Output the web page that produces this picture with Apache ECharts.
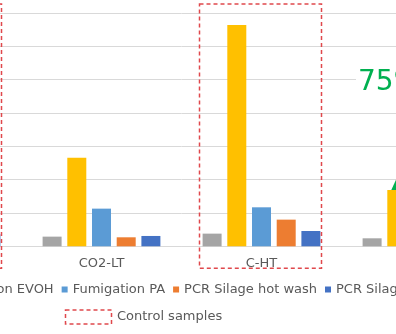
<!DOCTYPE html>
<html>
<head>
<meta charset="utf-8">
<script src="https://cdn.jsdelivr.net/npm/echarts@6/dist/echarts.min.js"></script>
<style>
  html, body { margin: 0; padding: 0; background: #fff; overflow: hidden; }
  body { width: 396px; height: 334px; position: relative; }
  /* the canvas is wider than the window and shifted left */
  #chart { position: absolute; left: -160px; top: 0; width: 700px; height: 334px; }
</style>
</head>
<body>
<div id="chart"></div>
<script>
// Sample groups (control groups are framed with a dashed box)
const categories = ['C-LT', 'CO2-LT', 'C-HT', 'CO2-HT'];
const controlGroups = ['C-LT', 'C-HT'];

// Treatment series, one value per sample group
const seriesNames = ['Untreated', 'Fumigation EVOH', 'Fumigation PA', 'PCR Silage hot wash', 'PCR Silage cold wash'];
const untreated = [0.30, 0.29, 0.38, 0.24];
const fumigationEvoh = [6.2, 2.66, 6.64, 1.69];
const fumigationPa = [1.10, 1.13, 1.17, 0.60];
const pcrHotWash = [0.55, 0.27, 0.80, 0.30];
const pcrColdWash = [0.36, 0.31, 0.46, 0.28];
const seriesColors = ['#A5A5A5', '#FFC000', '#5B9BD5', '#ED7D31', '#4472C4'];

// Reduction callout on the CO2-HT group
const reductionLabel = '75%';
const reductionGroup = 'CO2-HT';

const FONT = '"DejaVu Sans", sans-serif';
const TEXT = '#595959';
const BOX_RED = '#E0484C';
const SHIFT = 160; // horizontal offset of the canvas inside the window

const chart = echarts.init(document.getElementById('chart'));

const seriesValues = [untreated, fumigationEvoh, fumigationPa, pcrHotWash, pcrColdWash];

const series = seriesValues.map((vals, i) => {
  const s = {
    name: seriesNames[i],
    type: 'bar',
    data: vals,
    barWidth: 19,
    barGap: '30%',
    itemStyle: { color: seriesColors[i] },
    emphasis: { disabled: true },
    animation: false
  };
  if (i === 1) {
    const idx = categories.indexOf(reductionGroup);
    s.markPoint = {
      silent: true,
      animation: false,
      data: [{
        coord: [reductionGroup, vals[idx]],
        symbol: 'triangle',
        symbolSize: [11, 12],
        symbolOffset: [0, -6],
        itemStyle: { color: '#00B050' },
        label: { show: false }
      }]
    };
  }
  return s;
});

chart.setOption({
  animation: false,
  backgroundColor: '#fff',
  grid: { left: SHIFT - 138.5, width: 640, top: 13, bottom: 87.7, containLabel: false },
  xAxis: {
    type: 'category',
    data: categories,
    axisLine: { lineStyle: { color: '#D9D9D9', width: 1 } },
    axisTick: { show: false },
    axisLabel: { color: TEXT, fontFamily: FONT, fontSize: 13, margin: 11 }
  },
  yAxis: {
    type: 'value',
    min: 0,
    max: 7,
    interval: 1,
    axisLabel: { show: false },
    axisLine: { show: false },
    axisTick: { show: false },
    splitLine: { lineStyle: { color: '#D9D9D9', width: 1 } }
  },
  legend: {
    data: seriesNames,
    left: SHIFT - 160,
    top: 278,
    icon: 'rect',
    itemWidth: 6,
    itemHeight: 6,
    itemGap: 8,
    textStyle: { color: TEXT, fontFamily: FONT, fontSize: 13 },
    selectedMode: false
  },
  series: series
});

// Dashed frames around the control groups plus the callout and its key
function drawOverlays() {
  const baseY = chart.convertToPixel({ yAxisIndex: 0 }, 0);
  const elements = [];
  controlGroups.forEach(name => {
    const cx = chart.convertToPixel({ xAxisIndex: 0 }, name);
    elements.push({
      type: 'rect',
      silent: true,
      shape: { x: cx - 62, y: 4, width: 122, height: baseY + 22 - 4 },
      style: { fill: 'none', stroke: BOX_RED, lineWidth: 1.5, lineDash: [4, 3] },
      z: 10
    });
  });
  // key for the dashed frame
  elements.push({
    type: 'rect',
    silent: true,
    shape: { x: SHIFT + 65.5, y: 310, width: 46, height: 14 },
    style: { fill: 'none', stroke: BOX_RED, lineWidth: 1.5, lineDash: [4, 3] }
  });
  elements.push({
    type: 'text',
    silent: true,
    x: SHIFT + 117, y: 317,
    style: { text: 'Control samples', fill: TEXT, font: '13px ' + FONT, textVerticalAlign: 'middle' }
  });
  // reduction callout
  elements.push({
    type: 'text',
    silent: true,
    x: SHIFT + 356, y: 83,
    style: {
      text: reductionLabel, fill: '#00B050', font: '28px ' + FONT,
      textVerticalAlign: 'middle', backgroundColor: '#fff', padding: [2, 2]
    },
    z: 20
  });
  chart.setOption({ graphic: { elements: elements } });
}
drawOverlays();
</script>
</body>
</html>
